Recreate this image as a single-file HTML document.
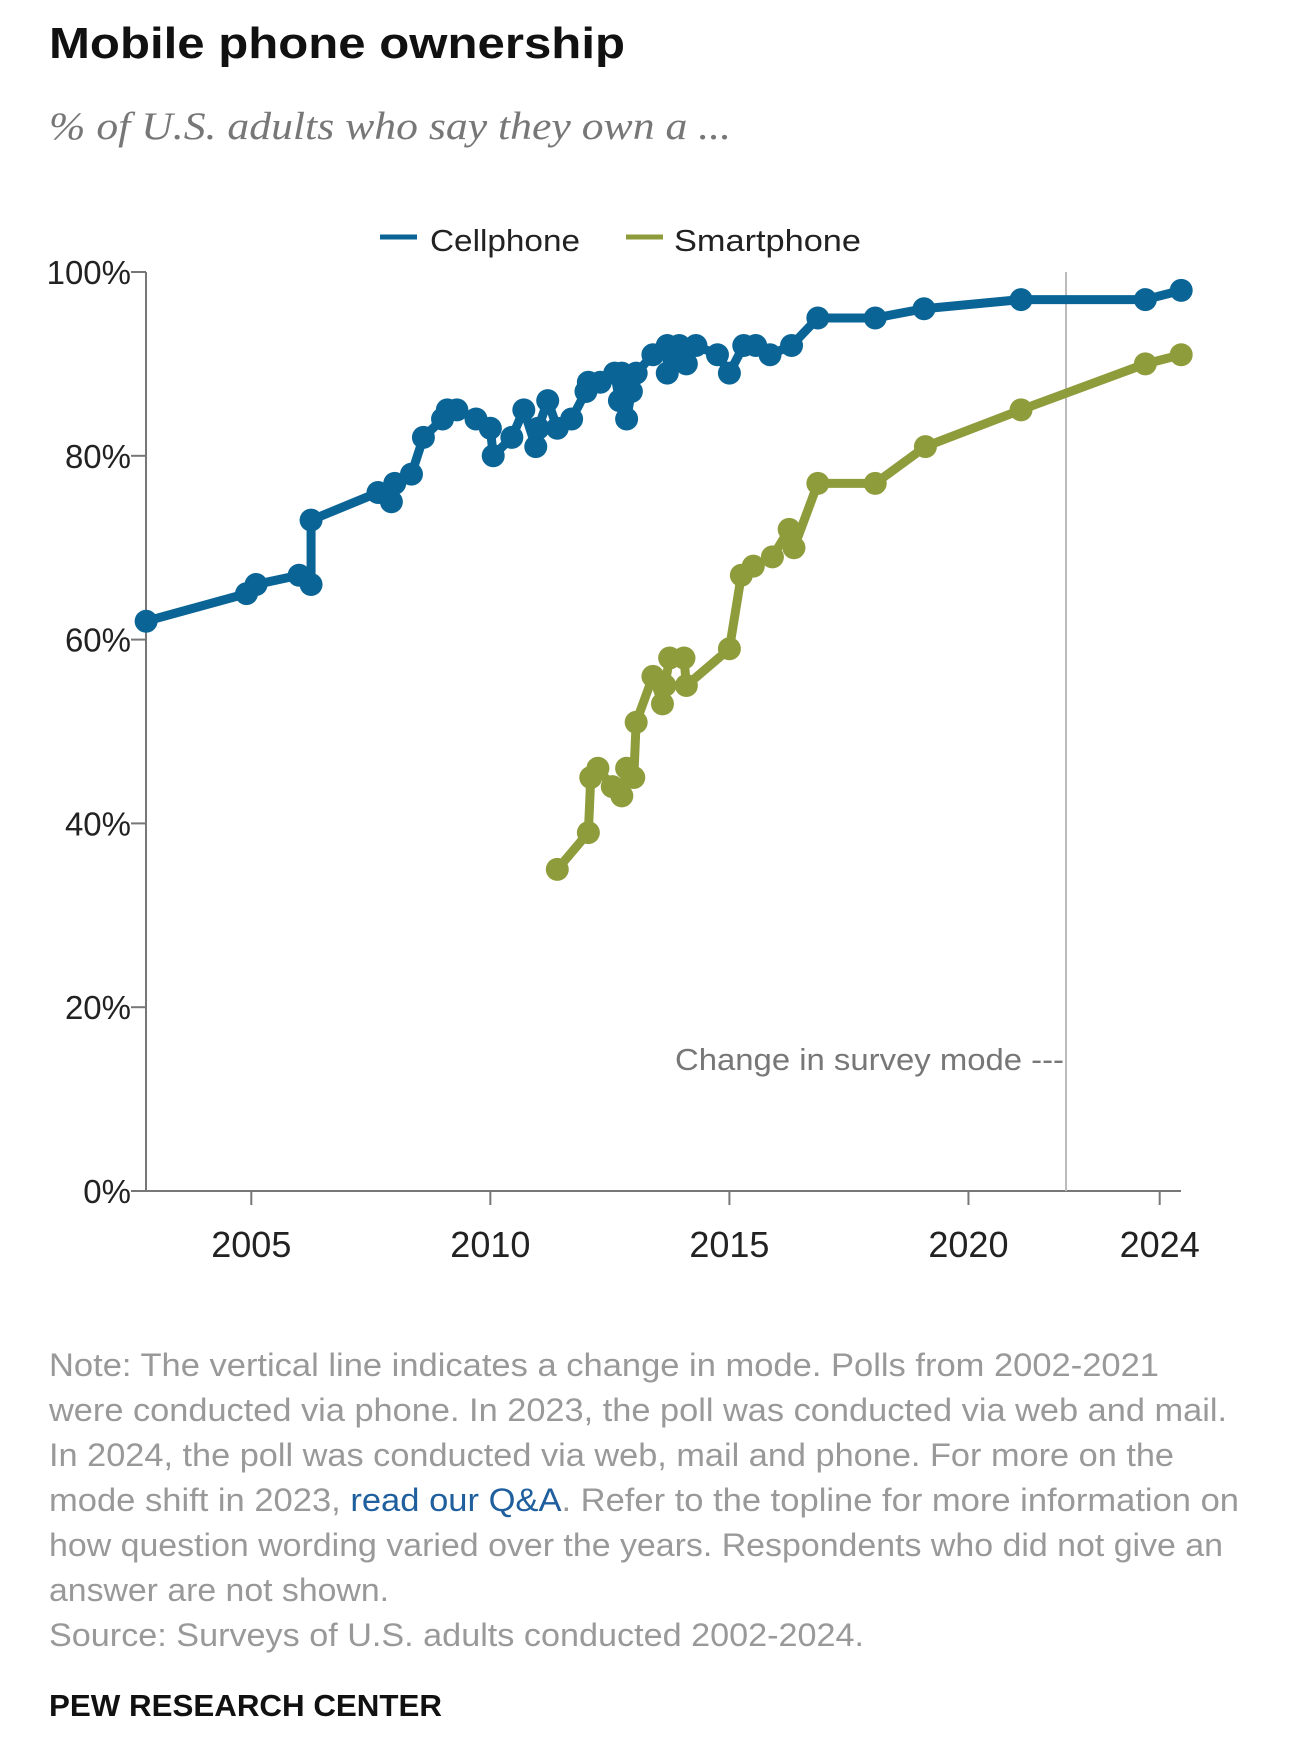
<!DOCTYPE html>
<html><head><meta charset="utf-8"><style>
html,body{margin:0;padding:0;background:#fff;}
svg{display:block;font-family:"Liberation Sans",sans-serif;}
</style></head><body>
<svg id="chart" width="1290" height="1743" viewBox="0 0 1290 1743">
<text x="49" y="58" font-size="44" font-weight="bold" fill="#111" textLength="576" lengthAdjust="spacingAndGlyphs">Mobile phone ownership</text>
<text x="49" y="139" font-size="39" font-style="italic" font-family="Liberation Serif, serif" fill="#777" textLength="682" lengthAdjust="spacingAndGlyphs">% of U.S. adults who say they own a ...</text>
<g>
<line x1="380" y1="237" x2="417" y2="237" stroke="#0a6596" stroke-width="5"/>
<text x="430" y="251" font-size="31" fill="#222" textLength="150" lengthAdjust="spacingAndGlyphs">Cellphone</text>
<line x1="626" y1="237" x2="663" y2="237" stroke="#8f9c3c" stroke-width="5"/>
<text x="674" y="251" font-size="31" fill="#222" textLength="187" lengthAdjust="spacingAndGlyphs">Smartphone</text>
</g>
<g id="axes"></g>
<line x1="1066" y1="272" x2="1066" y2="1191" stroke="#bbb" stroke-width="2"/>
<text x="1064" y="1070" text-anchor="end" font-size="31" fill="#777" textLength="389" lengthAdjust="spacingAndGlyphs">Change in survey mode ---</text>
<g id="series"></g>
<g font-size="32" fill="#999">
<text x="49" y="1376" textLength="1110" lengthAdjust="spacingAndGlyphs">Note: The vertical line indicates a change in mode. Polls from 2002-2021</text>
<text x="49" y="1421" textLength="1178" lengthAdjust="spacingAndGlyphs">were conducted via phone. In 2023, the poll was conducted via web and mail.</text>
<text x="49" y="1466" textLength="1125" lengthAdjust="spacingAndGlyphs">In 2024, the poll was conducted via web, mail and phone. For more on the</text>
<text x="49" y="1511" textLength="1190" lengthAdjust="spacingAndGlyphs">mode shift in 2023, <tspan fill="#1f5f9e">read our Q&amp;A</tspan>. Refer to the topline for more information on</text>
<text x="49" y="1556" textLength="1174" lengthAdjust="spacingAndGlyphs">how question wording varied over the years. Respondents who did not give an</text>
<text x="49" y="1601" textLength="340" lengthAdjust="spacingAndGlyphs">answer are not shown.</text>
<text x="49" y="1646" textLength="815" lengthAdjust="spacingAndGlyphs">Source: Surveys of U.S. adults conducted 2002-2024.</text>
</g>
<text x="49" y="1716" font-size="31" font-weight="bold" fill="#111" textLength="393" lengthAdjust="spacingAndGlyphs">PEW RESEARCH CENTER</text>
</svg>
<script>
const cellYears=[2002.8,2004.9,2005.1,2006.0,2006.25,2006.25,2007.65,2007.93,2008.0,2008.35,2008.6,2009.0,2009.1,2009.3,2009.7,2010.0,2010.06,2010.45,2010.7,2010.95,2011.0,2011.2,2011.4,2011.7,2012.0,2012.05,2012.3,2012.6,2012.7,2012.75,2012.85,2012.95,2013.05,2013.4,2013.7,2013.7,2013.95,2014.1,2014.3,2014.75,2015.0,2015.3,2015.55,2015.85,2016.3,2016.85,2018.05,2019.07,2021.1,2023.7,2024.45];
const cellValues=[62,65,66,67,66,73,76,75,77,78,82,84,85,85,84,83,80,82,85,81,83,86,83,84,87,88,88,89,86,89,84,87,89,91,92,89,92,90,92,91,89,92,92,91,92,95,95,96,97,97,98];
const smartYears=[2011.4,2012.05,2012.1,2012.25,2012.55,2012.75,2012.85,2013.0,2013.05,2013.4,2013.6,2013.65,2013.75,2014.05,2014.1,2015.0,2015.25,2015.5,2015.9,2016.25,2016.35,2016.85,2018.05,2019.1,2021.1,2023.7,2024.45];
const smartValues=[35,39,45,46,44,43,46,45,51,56,53,55,58,58,55,59,67,68,69,72,70,77,77,81,85,90,91];
const yTicks=[0,20,40,60,80,100];
const xTicks=[2005,2010,2015,2020,2024];
const NS='http://www.w3.org/2000/svg';
const X=y=>251.3+(y-2005)*47.81;
const Y=v=>1191-v*9.19;
function mk(tag,attrs,parent){const e=document.createElementNS(NS,tag);for(const k in attrs)e.setAttribute(k,attrs[k]);parent.appendChild(e);return e;}
const axes=document.getElementById('axes');
let a=mk('line',{x1:146,y1:272,x2:146,y2:1192,stroke:'#777','stroke-width':2},axes);


a=mk('line',{x1:146,y1:1191,x2:1181,y2:1191,stroke:'#777','stroke-width':2},axes);


yTicks.forEach(v=>{
  const t=mk('line',{x1:131,y1:Y(v),x2:146,y2:Y(v),stroke:'#777','stroke-width':2},axes);
  
  
  const l=mk('text',{x:131,y:Y(v)+12,'text-anchor':'end','font-size':33,fill:'#222'},axes);
  l.textContent=v+'%';
  
  
});
xTicks.forEach(y=>{
  const t=mk('line',{x1:X(y),y1:1191,x2:X(y),y2:1205,stroke:'#777','stroke-width':2},axes);
  
  
  const l=mk('text',{x:X(y),y:1257,'text-anchor':'middle','font-size':36,fill:'#222'},axes);
  l.textContent=y;
  
  
});
const series=document.getElementById('series');
function draw(xs,vs,color,name){
  const g=mk('g',{},series);
  
  
  const p=mk('polyline',{points:xs.map((y,i)=>X(y)+','+Y(vs[i])).join(' '),fill:'none',stroke:color,'stroke-width':9,'stroke-linejoin':'round'},g);
  
  
  xs.forEach((y,i)=>{
    const c=mk('circle',{cx:X(y),cy:Y(vs[i]),r:11.5,fill:color},g);
    
    
  });
}
draw(cellYears,cellValues,'#0a6596','cellphone');
draw(smartYears,smartValues,'#8f9c3c','smartphone');
</script>
</body></html>
